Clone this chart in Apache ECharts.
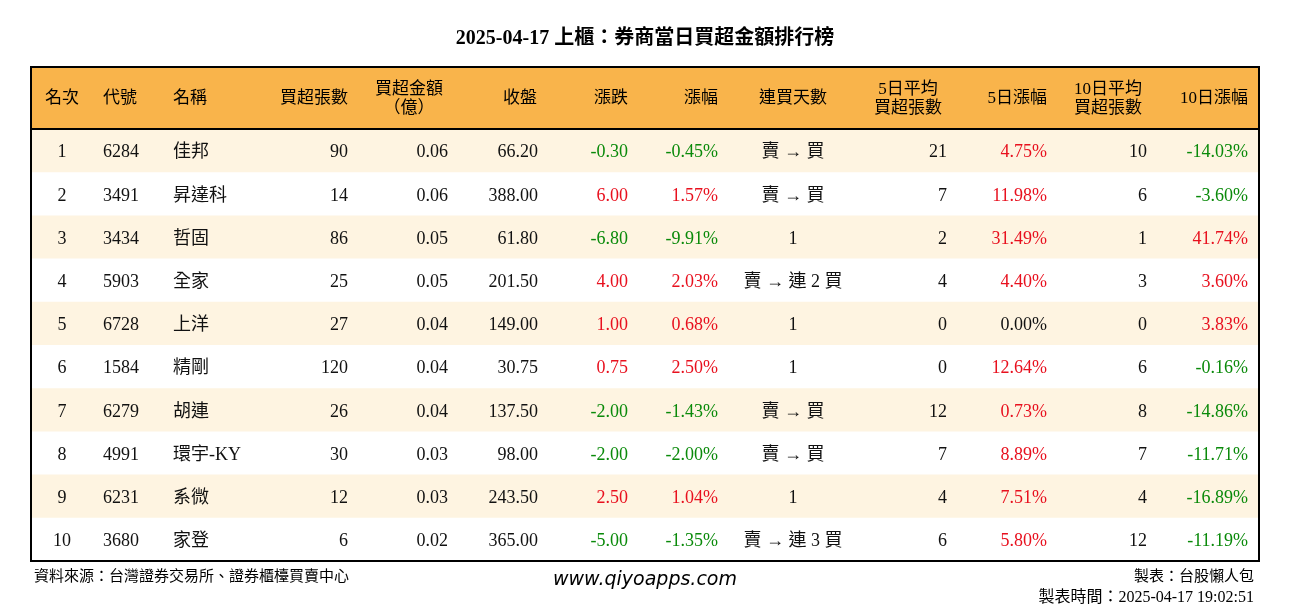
<!DOCTYPE html>
<html><head><meta charset="utf-8">
<script src="https://cdn.jsdelivr.net/npm/echarts@6/dist/echarts.min.js"></script>
<style>html,body{margin:0;padding:0;background:#fff}#c{width:1290px;height:612px}</style>
</head><body><div id="c"></div>
<script>
const title = '2025-04-17 上櫃：券商當日買超金額排行榜';
const headers = ['名次','代號','名稱','買超張數','買超金額\n（億）','收盤','漲跌','漲幅','連買天數','5日平均\n買超張數','5日漲幅','10日平均\n買超張數','10日漲幅'];
const ranks = [1,2,3,4,5,6,7,8,9,10];
const codes = ['6284','3491','3434','5903','6728','1584','6279','4991','6231','3680'];
const names = ['佳邦','昇達科','哲固','全家','上洋','精剛','胡連','環宇-KY','系微','家登'];
const buyLots = [90,14,86,25,27,120,26,30,12,6];
const buyAmt = ['0.06','0.06','0.05','0.05','0.04','0.04','0.04','0.03','0.03','0.02'];
const closes = ['66.20','388.00','61.80','201.50','149.00','30.75','137.50','98.00','243.50','365.00'];
const changes = ['-0.30','6.00','-6.80','4.00','1.00','0.75','-2.00','-2.00','2.50','-5.00'];
const pctChg = ['-0.45%','1.57%','-9.91%','2.03%','0.68%','2.50%','-1.43%','-2.00%','1.04%','-1.35%'];
const streak = ['賣 → 買','賣 → 買','1','賣 → 連 2 買','1','1','賣 → 買','賣 → 買','1','賣 → 連 3 買'];
const avg5 = [21,7,2,4,0,0,12,7,4,6];
const pct5 = ['4.75%','11.98%','31.49%','4.40%','0.00%','12.64%','0.73%','8.89%','7.51%','5.80%'];
const avg10 = [10,6,1,3,0,6,8,7,4,12];
const pct10 = ['-14.03%','-3.60%','41.74%','3.60%','3.83%','-0.16%','-14.86%','-11.71%','-16.89%','-11.19%'];

const FONT = '"Liberation Serif","Noto Sans CJK TC",serif';
const RED = '#E8101E', GREEN = '#0A8A0A', BLACK = '#111';
const colorOf = v => { const n = parseFloat(v); return n > 0 ? RED : n < 0 ? GREEN : BLACK; };

const cols = [[62,'center'],[103,'left'],[173,'left'],[348,'right'],[448,'right'],[538,'right'],[628,'right'],[718,'right'],[793,'center'],[947,'right'],[1047,'right'],[1147,'right'],[1248,'right']];
const hdrCols = [[62,'center'],[103,'left'],[173,'left'],[348,'right'],[409,'center'],[537,'right'],[628,'right'],[718,'right'],[793,'center'],[908,'center'],[1047,'right'],[1108,'center'],[1248,'right']];
const L = 31, R = 1259, T = 67, HB = 129, B = 561;
const rowH = (B - HB) / ranks.length;

const g = [];
g.push({type:'text', left:'center', top:29, style:{text:title, font:'bold 20px '+FONT, fill:'#000'}});
g.push({type:'rect', shape:{x:L,y:T,width:R-L,height:HB-T}, style:{fill:'#F9B44B'}});
ranks.forEach((r,i)=>{ if(i%2===0) g.push({type:'rect', shape:{x:L,y:HB+i*rowH,width:R-L,height:rowH}, style:{fill:'#FEF4E1'}}); });
g.push({type:'rect', shape:{x:L,y:T,width:R-L,height:B-T}, style:{fill:'none',stroke:'#000',lineWidth:2}});
g.push({type:'line', shape:{x1:L,y1:HB,x2:R,y2:HB}, style:{stroke:'#000',lineWidth:2}});
headers.forEach((h,j)=>{
  g.push({type:'text', x:hdrCols[j][0], y:(T+HB)/2+1, style:{text:h, font:'17px '+FONT, fill:'#000', align:hdrCols[j][1], verticalAlign:'middle', lineHeight:19}});
});
ranks.forEach((r,i)=>{
  const vals = [[r,BLACK],[codes[i],BLACK],[names[i],BLACK],[buyLots[i],BLACK],[buyAmt[i],BLACK],[closes[i],BLACK],
    [changes[i],colorOf(changes[i])],[pctChg[i],colorOf(pctChg[i])],[streak[i],BLACK],[avg5[i],BLACK],
    [pct5[i],colorOf(pct5[i])],[avg10[i],BLACK],[pct10[i],colorOf(pct10[i])]];
  const y = HB + (i+0.5)*rowH + 2;
  vals.forEach((v,j)=>{
    g.push({type:'text', x:cols[j][0], y:y, style:{text:String(v[0]), font:'18px '+FONT, fill:v[1], align:cols[j][1], verticalAlign:'middle'}});
  });
});
g.push({type:'text', x:34, y:577, style:{text:'資料來源：台灣證券交易所、證券櫃檯買賣中心', font:'15px '+FONT, fill:'#000', verticalAlign:'middle'}});
g.push({type:'text', x:645, y:580, style:{text:'www.qiyoapps.com', font:'italic 19px "DejaVu Sans",sans-serif', fill:'#000', align:'center', verticalAlign:'middle'}});
g.push({type:'text', x:1254, y:577, style:{text:'製表：台股懶人包', font:'15px '+FONT, fill:'#000', align:'right', verticalAlign:'middle'}});
g.push({type:'text', x:1254, y:598, style:{text:'製表時間：2025-04-17 19:02:51', font:'16px '+FONT, fill:'#000', align:'right', verticalAlign:'middle'}});

const chart = echarts.init(document.getElementById('c'));
chart.setOption({animation:false, graphic:g});
</script></body></html>
